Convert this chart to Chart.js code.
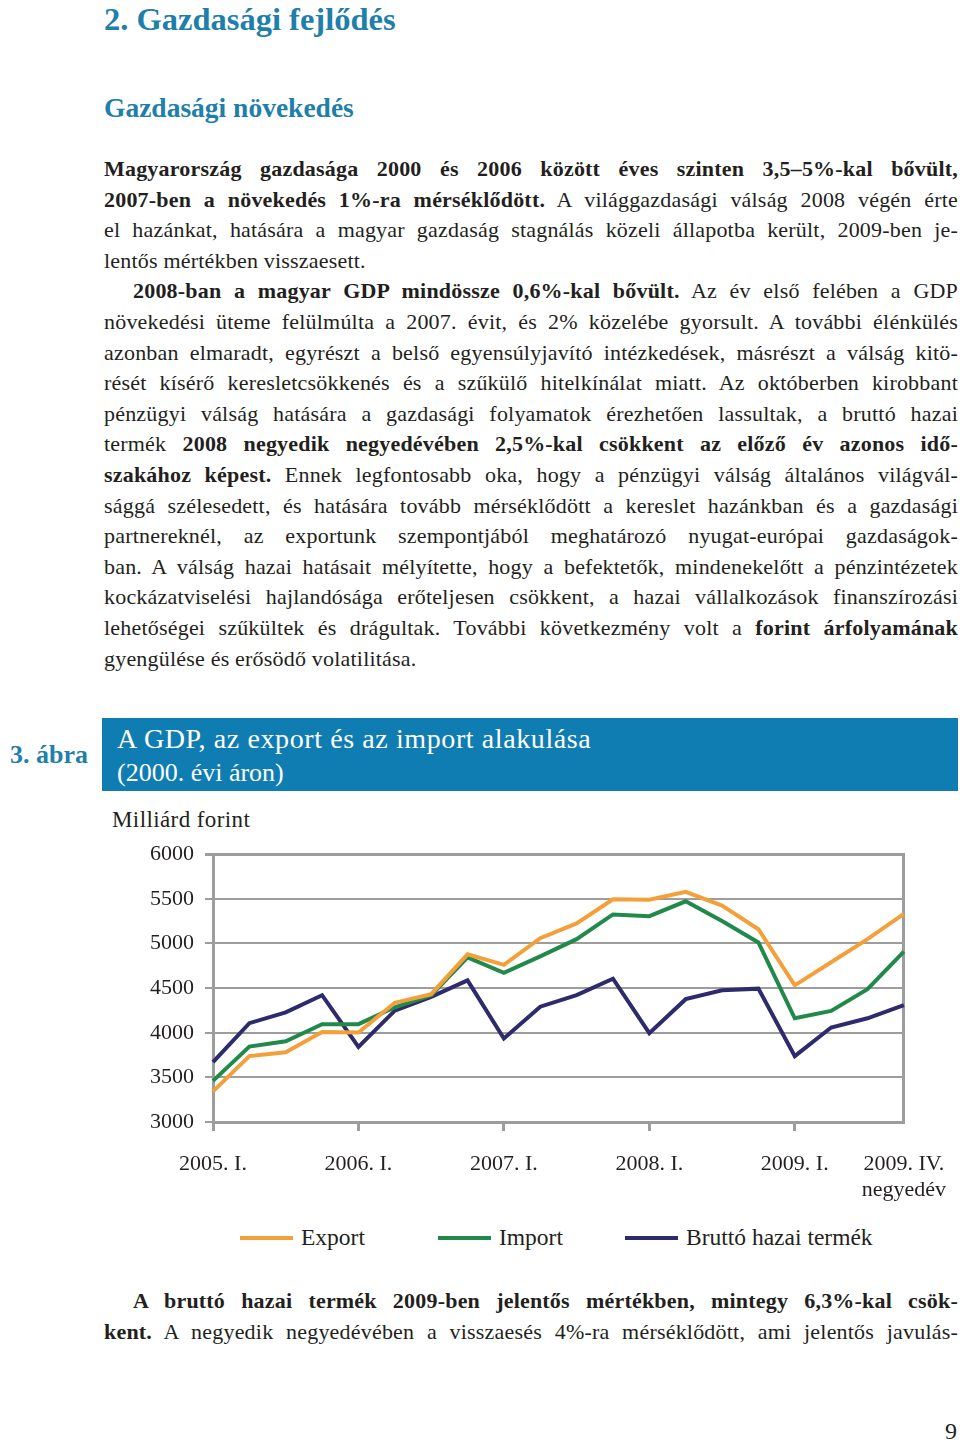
<!DOCTYPE html>
<html lang="hu">
<head>
<meta charset="UTF-8">
<title>A GDP, az export és az import alakulása</title>
<script src="https://cdn.jsdelivr.net/npm/chart.js"></script>
<style>
  body { margin: 0; width: 960px; height: 1444px; position: relative; overflow: hidden; background: #fff;
         font-family: 'Liberation Serif', serif; color: #231f20; }
  .h1 { position: absolute; left: 104px; top: -1px; font-size: 32.5px; font-weight: bold; color: #1f7fab; line-height: 40px; }
  .h2 { position: absolute; left: 104px; top: 91px; font-size: 27.5px; font-weight: bold; color: #1f7fab; line-height: 34px; }
  .para { position: absolute; left: 104px; width: 854px; font-size: 22px; line-height: 30.6px; letter-spacing: 0.2px; }
  .para div { text-align: justify; text-align-last: justify; height: 30.6px; }
  .para div.last { text-align-last: left; }
  .para div.ind { padding-left: 29px; }
  .abra { position: absolute; left: 10px; top: 739px; font-size: 26px; font-weight: bold; color: #1f7fab; line-height: 32px; }
  .box { position: absolute; left: 102px; top: 718px; width: 856px; height: 73px; background: #0f7db2; color: #fff; }
  .box div { position: absolute; left: 15px; line-height: 32px; }
  .unit { position: absolute; left: 112px; top: 805px; font-size: 23px; line-height: 30px; letter-spacing: 0.4px; }
  .chartbox { position: absolute; left: 100px; top: 830px; width: 866px; height: 382px; }
  .legend { position: absolute; left: 0; top: 1222px; width: 960px; height: 30px; font-size: 23.5px; }
  .legend .item { position: absolute; top: 0; line-height: 30px; white-space: nowrap; }
  .legend .swatch { display: inline-block; width: 53px; height: 4px; vertical-align: middle; margin-right: 8px; position: relative; top: -2px; }
  .pageno { position: absolute; left: 945px; top: 1416px; font-size: 24px; line-height: 30px; }
</style>
</head>
<body>
  <div class="h1">2. Gazdasági fejlődés</div>
  <div class="h2">Gazdasági növekedés</div>

  <div class="para" style="top:154px">
    <div><b>Magyarország gazdasága 2000 és 2006 között éves szinten 3,5–5%-kal bővült,</b></div>
    <div><b>2007-ben a növekedés 1%-ra mérséklődött.</b> A világgazdasági válság 2008 végén érte</div>
    <div>el hazánkat, hatására a magyar gazdaság stagnálás közeli állapotba került, 2009-ben je-</div>
    <div class="last">lentős mértékben visszaesett.</div>
    <div class="ind"><b>2008-ban a magyar GDP mindössze 0,6%-kal bővült.</b> Az év első felében a GDP</div>
    <div>növekedési üteme felülmúlta a 2007. évit, és 2% közelébe gyorsult. A további élénkülés</div>
    <div>azonban elmaradt, egyrészt a belső egyensúlyjavító intézkedések, másrészt a válság kitö-</div>
    <div>rését kísérő keresletcsökkenés és a szűkülő hitelkínálat miatt. Az októberben kirobbant</div>
    <div>pénzügyi válság hatására a gazdasági folyamatok érezhetően lassultak, a bruttó hazai</div>
    <div>termék <b>2008 negyedik negyedévében 2,5%-kal csökkent az előző év azonos idő-</b></div>
    <div><b>szakához képest.</b> Ennek legfontosabb oka, hogy a pénzügyi válság általános világvál-</div>
    <div>sággá szélesedett, és hatására tovább mérséklődött a kereslet hazánkban és a gazdasági</div>
    <div>partnereknél, az exportunk szempontjából meghatározó nyugat-európai gazdaságok-</div>
    <div>ban. A válság hazai hatásait mélyítette, hogy a befektetők, mindenekelőtt a pénzintézetek</div>
    <div>kockázatviselési hajlandósága erőteljesen csökkent, a hazai vállalkozások finanszírozási</div>
    <div>lehetőségei szűkültek és drágultak. További következmény volt a <b>forint árfolyamának</b></div>
    <div class="last">gyengülése és erősödő volatilitása.</div>
  </div>

  <div class="abra">3. ábra</div>
  <div class="box">
    <div style="top:5px; font-size:28px; letter-spacing:0.6px">A GDP, az export és az import alakulása</div>
    <div style="top:39px; font-size:26px">(2000. évi áron)</div>
  </div>
  <div class="unit">Milliárd forint</div>

  <div class="chartbox"><canvas id="chart"></canvas></div>
  <div class="legend" id="legend"></div>

  <div class="para" style="top:1286px">
    <div class="ind"><b>A bruttó hazai termék 2009-ben jelentős mértékben, mintegy 6,3%-kal csök-</b></div>
    <div><b>kent.</b> A negyedik negyedévében a visszaesés 4%-ra mérséklődött, ami jelentős javulás-</div>
  </div>
  <div class="pageno">9</div>

<script>
// negyedévek 2005 I. - 2009 IV.
const quarters = ['2005. I.', '2005. II.', '2005. III.', '2005. IV.',
                  '2006. I.', '2006. II.', '2006. III.', '2006. IV.',
                  '2007. I.', '2007. II.', '2007. III.', '2007. IV.',
                  '2008. I.', '2008. II.', '2008. III.', '2008. IV.',
                  '2009. I.', '2009. II.', '2009. III.', '2009. IV.']
const tickLabels = ['2005. I.', '', '', '', '2006. I.', '', '', '', '2007. I.', '', '', '',
                    '2008. I.', '', '', '', '2009. I.', '', '', ['2009. IV.', 'negyedév']]

// milliárd forint, 2000. évi áron
const exportData = [3343, 3738, 3782, 4007, 4003, 4336, 4432, 4878, 4760, 5059,
                    5225, 5495, 5490, 5579, 5424, 5159, 4531, 4790, 5048, 5332]
const importData = [3461, 3845, 3904, 4096, 4096, 4285, 4421, 4845, 4672, 4856,
                    5048, 5325, 5306, 5472, 5251, 5011, 4162, 4244, 4487, 4908]
const gdpData = [3672, 4107, 4229, 4421, 3841, 4247, 4402, 4587, 3935, 4292,
                 4421, 4605, 3996, 4376, 4476, 4494, 3738, 4059, 4162, 4310]

const yMin = 3000
const yMax = 6000
const yStep = 500

const gray = '#9d9d9d'
const font = { family: "'Liberation Serif', serif", size: 22 }

const line = (label, data, color) => ({
  label: label,
  data: data,
  borderColor: color,
  backgroundColor: color,
  borderWidth: 4,
  pointRadius: 0,
  tension: 0
})

const chart = new Chart(document.getElementById('chart'), {
  type: 'line',
  data: {
    labels: quarters,
    datasets: [
      line('Export', exportData, '#f4a03a'),
      line('Import', importData, '#218a4b'),
      line('Bruttó hazai termék', gdpData, '#2e2b6d')
    ]
  },
  options: {
    responsive: true,
    maintainAspectRatio: false,
    animation: false,
    layout: { padding: { left: 0, top: 21, right: 0, bottom: 0 } },
    plugins: {
      title: { display: false },
      tooltip: { enabled: false },
      legend: { display: false }
    },
    scales: {
      x: {
        offset: false,
        afterFit: s => { s.height = 90 },
        grid: {
          drawOnChartArea: false,
          tickLength: 9,
          lineWidth: 3,
          color: c => (tickLabels[c.index] && c.index < quarters.length - 1) ? gray : 'rgba(0,0,0,0)'
        },
        border: { color: gray, width: 3 },
        ticks: {
          autoSkip: false,
          maxRotation: 0,
          minRotation: 0,
          padding: 20,
          color: '#231f20',
          font: font,
          callback: (v, i) => tickLabels[i]
        }
      },
      y: {
        min: yMin,
        max: yMax,
        afterFit: s => { s.width = 113 },
        grid: {
          color: gray,
          tickLength: 8,
          lineWidth: c => c.tick && c.tick.value === yMax ? 3 : 2
        },
        border: { color: gray, width: 3 },
        ticks: {
          stepSize: yStep,
          padding: 11,
          color: '#231f20',
          font: font,
          callback: v => String(v)
        }
      },
      y2: {
        position: 'right',
        afterFit: s => { s.width = 57 },
        grid: { display: false },
        border: { color: gray, width: 3 },
        ticks: { display: false }
      }
    }
  }
})

// jelmagyarázat a diagram adatsoraiból
const legendX = [240, 438, 625]
const legend = document.getElementById('legend')
chart.data.datasets.forEach((ds, i) => {
  const item = document.createElement('div')
  item.className = 'item'
  item.style.left = legendX[i] + 'px'
  const sw = document.createElement('span')
  sw.className = 'swatch'
  sw.style.background = ds.borderColor
  item.appendChild(sw)
  item.appendChild(document.createTextNode(ds.label))
  legend.appendChild(item)
})
</script>
</body>
</html>
